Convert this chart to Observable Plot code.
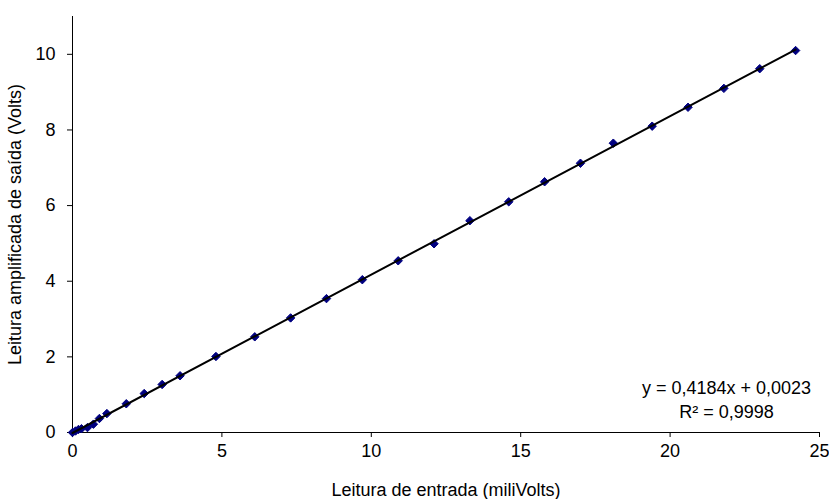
<!DOCTYPE html>
<html>
<head>
<meta charset="utf-8">
<script src="https://cdn.jsdelivr.net/npm/d3@7"></script>
<script src="https://cdn.jsdelivr.net/npm/@observablehq/plot@0.6"></script>
<style>
  html, body { margin: 0; padding: 0; background: white; }
</style>
</head>
<body>
<div id="chart"></div>
<script>
const entrada = [0, 0.1, 0.2, 0.3, 0.5, 0.7, 0.9, 1.15, 1.8, 2.4, 3.0, 3.6, 4.8, 6.1, 7.3, 8.5, 9.7, 10.9, 12.1, 13.3, 14.6, 15.8, 17.0, 18.1, 19.4, 20.6, 21.8, 23.0, 24.2];
const saida   = [0, 0.04, 0.08, 0.1, 0.13, 0.22, 0.37, 0.5, 0.76, 1.03, 1.27, 1.5, 2.01, 2.53, 3.03, 3.54, 4.04, 4.54, 4.99, 5.6, 6.1, 6.63, 7.12, 7.65, 8.1, 8.6, 9.1, 9.62, 10.1];
const xTicks = [0, 5, 10, 15, 20, 25];
const yTicks = [0, 2, 4, 6, 8, 10];
const xLabel = "Leitura de entrada (miliVolts)";
const yLabel = "Leitura amplificada de saída (Volts)";
const equation = ["y = 0,4184x + 0,0023", "R² = 0,9998"];

const data = entrada.map((x, i) => ({x, y: saida[i]}));

const chart = Plot.plot({
  width: 829,
  height: 499,
  marginLeft: 72,
  marginRight: 10,
  marginTop: 16,
  marginBottom: 67,
  style: {fontFamily: "'Liberation Sans', Arial, sans-serif", fontSize: "18px", color: "black", background: "white"},
  x: {domain: [0, 25]},
  y: {domain: [0, 11]},
  marks: [
    Plot.axisX({ticks: xTicks, tickSize: 5, tickPadding: 7, label: xLabel, labelAnchor: "center", labelArrow: "none", labelOffset: 63, fontSize: 18}),
    Plot.axisY({ticks: yTicks, tickSize: 5, tickPadding: 12, label: yLabel, labelAnchor: "center", labelArrow: "none", labelOffset: 64, fontSize: 18}),
    Plot.ruleX([0], {stroke: "black"}),
    Plot.ruleY([0], {stroke: "black"}),
    Plot.dot(data, {x: "x", y: "y", symbol: "diamond2", r: 3.8, fill: "#000080", stroke: "#000080", strokeWidth: 1}),
    Plot.linearRegressionY(data, {x: "x", y: "y", stroke: "black", strokeWidth: 2, ci: 0}),
    Plot.text([equation[0]], {frameAnchor: "bottom-right", textAnchor: "middle", dx: -93, dy: -39, fontSize: 18}),
    Plot.text([equation[1]], {frameAnchor: "bottom-right", textAnchor: "middle", dx: -93, dy: -15, fontSize: 18})
  ]
});
document.getElementById("chart").appendChild(chart);
</script>
</body>
</html>
